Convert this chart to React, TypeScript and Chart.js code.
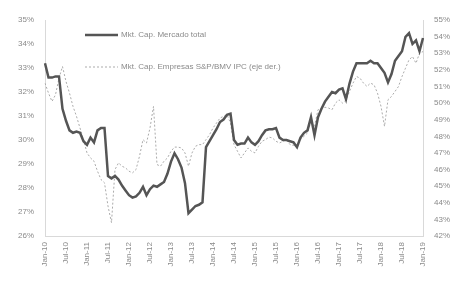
import React, { useEffect, useRef } from "react";
import { Chart, registerables } from "chart.js";

Chart.register(...registerables);

const monthNames = ["Jan", "Feb", "Mar", "Apr", "May", "Jun", "Jul", "Aug", "Sep", "Oct", "Nov", "Dec"];
const startYear = 2010;
const monthCount = 109;
const categories: string[] = Array.from({ length: monthCount }, (_, i) =>
  `${monthNames[i % 12]}-${String((startYear + Math.floor(i / 12)) % 100).padStart(2, "0")}`
);

const seriesNames = ["Mkt. Cap. Mercado total", "Mkt. Cap. Empresas S&P/BMV IPC (eje der.)"];

const mercadoTotal = [
  33.2, 32.6, 32.6, 32.65, 32.65, 31.3, 30.8, 30.4, 30.3, 30.35, 30.3, 29.95,
  29.8, 30.1, 29.9, 30.4, 30.5, 30.5, 28.5, 28.4, 28.5, 28.35, 28.1, 27.9,
  27.7, 27.6, 27.65, 27.8, 28.05, 27.7, 27.95, 28.1, 28.05, 28.15, 28.25, 28.6,
  29.1, 29.45, 29.2, 28.85, 28.2, 26.95, 27.1, 27.25, 27.3, 27.4, 29.7, 29.95,
  30.2, 30.45, 30.75, 30.85, 31.05, 31.1, 30.0, 29.8, 29.85, 29.85, 30.1, 29.9,
  29.8, 29.95, 30.2, 30.4, 30.45, 30.45, 30.5, 30.1, 30.0, 30.0, 29.95, 29.9,
  29.7, 30.1, 30.3, 30.4, 30.95, 30.2, 30.95, 31.3, 31.6, 31.8, 32.0, 31.95,
  32.1, 32.15, 31.7, 32.35, 32.85, 33.2, 33.2, 33.2, 33.2, 33.3, 33.2, 33.2,
  33.0, 32.8, 32.4, 32.75, 33.3, 33.5, 33.7, 34.3, 34.45, 34.0, 34.15, 33.7,
  34.25,
];

const empresasIPC = [
  51.2, 50.6, 50.1, 50.5, 51.5, 52.2, 51.3, 50.6, 49.8, 49.2, 48.5, 47.8,
  47.0, 46.7, 46.5, 45.9, 45.4, 45.2, 43.8, 42.8, 46.0, 46.4, 46.2, 46.1,
  45.9, 45.8, 46.0, 46.8, 47.8, 47.6, 48.5, 49.8, 46.3, 46.2, 46.5, 46.7,
  47.1, 47.35, 47.35, 47.3, 47.0, 46.2, 47.0, 47.4, 47.5, 47.5, 47.8, 48.1,
  48.5, 48.8, 49.1, 49.2, 49.3, 48.8, 47.5, 47.1, 46.7, 47.0, 47.3, 47.1,
  47.0, 47.4, 47.7, 47.8, 47.95, 47.9, 47.7, 47.6, 47.7, 47.8, 47.5, 47.45,
  47.4, 47.8, 48.0, 48.2, 48.9, 48.6, 49.6, 49.7, 49.75, 49.7, 49.6, 50.0,
  50.2, 50.0, 50.2, 50.7, 51.2, 51.6, 51.5, 51.2, 51.0, 51.2, 51.1, 50.6,
  49.8, 48.6, 50.2, 50.4, 50.7, 51.0, 51.6, 52.1, 52.6, 52.8, 52.4, 53.0,
  53.1,
];

const leftMin = 26;
const leftMax = 35;
const rightMin = 42;
const rightMax = 55;
const tickEvery = 6;

const TEXT = "#8a8a8a";
const AXIS = "#d9d9d9";
const FONT = "'Liberation Sans', Arial, sans-serif";

const insideLegend = {
  id: "insideLegend",
  afterDraw(chart: any) {
    const { ctx, chartArea } = chart;
    const x0 = chartArea.left + 40;
    const rows = [chartArea.top + 15, chartArea.top + 47];
    ctx.save();
    ctx.font = `8px ${FONT}`;
    ctx.fillStyle = TEXT;
    ctx.textBaseline = "middle";
    chart.data.datasets.forEach((ds: any, i: number) => {
      const y = rows[i];
      ctx.beginPath();
      ctx.strokeStyle = ds.borderColor;
      ctx.lineWidth = ds.borderWidth;
      ctx.setLineDash(ds.borderDash || []);
      ctx.moveTo(x0, y);
      ctx.lineTo(x0 + 33, y);
      ctx.stroke();
      ctx.setLineDash([]);
      ctx.fillText(ds.label, x0 + 36, y);
    });
    ctx.restore();
  },
};

export default function App() {
  const ref = useRef<HTMLCanvasElement>(null);

  useEffect(() => {
    if (!ref.current) return;
    const chart = new Chart(ref.current, {
      type: "line",
      data: {
        labels: categories,
        datasets: [
          {
            label: seriesNames[0],
            data: mercadoTotal,
            yAxisID: "y",
            borderColor: "#555555",
            borderWidth: 2.5,
            pointRadius: 0,
            tension: 0,
            order: 1,
          },
          {
            label: seriesNames[1],
            data: empresasIPC,
            yAxisID: "y1",
            borderColor: "#ababab",
            borderWidth: 1,
            borderDash: [2, 2],
            pointRadius: 0,
            tension: 0,
            order: 2,
          },
        ],
      },
      options: {
        animation: false,
        responsive: true,
        maintainAspectRatio: false,
        layout: { padding: { top: 20, left: 0, right: 0, bottom: 0 } },
        plugins: { legend: { display: false }, tooltip: { enabled: false } },
        scales: {
          x: {
            offset: false,
            grid: { display: false, drawTicks: true, tickLength: 3, color: AXIS },
            border: { color: AXIS },
            ticks: {
              autoSkip: false,
              maxRotation: 90,
              minRotation: 90,
              color: TEXT,
              font: { family: FONT, size: 8 },
              padding: 3,
              callback: (_v: any, i: number) => (i % tickEvery === 0 ? categories[i] : null),
            },
            afterFit: (s: any) => {
              s.height = 60;
            },
          },
          y: {
            position: "left",
            min: leftMin,
            max: leftMax,
            grid: { display: false },
            border: { color: AXIS },
            ticks: {
              stepSize: 1,
              color: TEXT,
              font: { family: FONT, size: 8 },
              callback: (v: any) => `${v}%`,
            },
            afterFit: (s: any) => {
              s.width = 45;
            },
          },
          y1: {
            position: "right",
            min: rightMin,
            max: rightMax,
            grid: { display: false },
            border: { color: AXIS, dash: [2, 2] },
            ticks: {
              stepSize: 1,
              color: TEXT,
              font: { family: FONT, size: 8 },
              callback: (v: any) => `${v}%`,
            },
            afterFit: (s: any) => {
              s.width = 40;
            },
          },
        },
      },
      plugins: [insideLegend],
    });
    return () => chart.destroy();
  }, []);

  return (
    <div style={{ position: "fixed", left: 0, top: 0, width: 463, height: 296, background: "#fff" }}>
      <canvas ref={ref} />
    </div>
  );
}
